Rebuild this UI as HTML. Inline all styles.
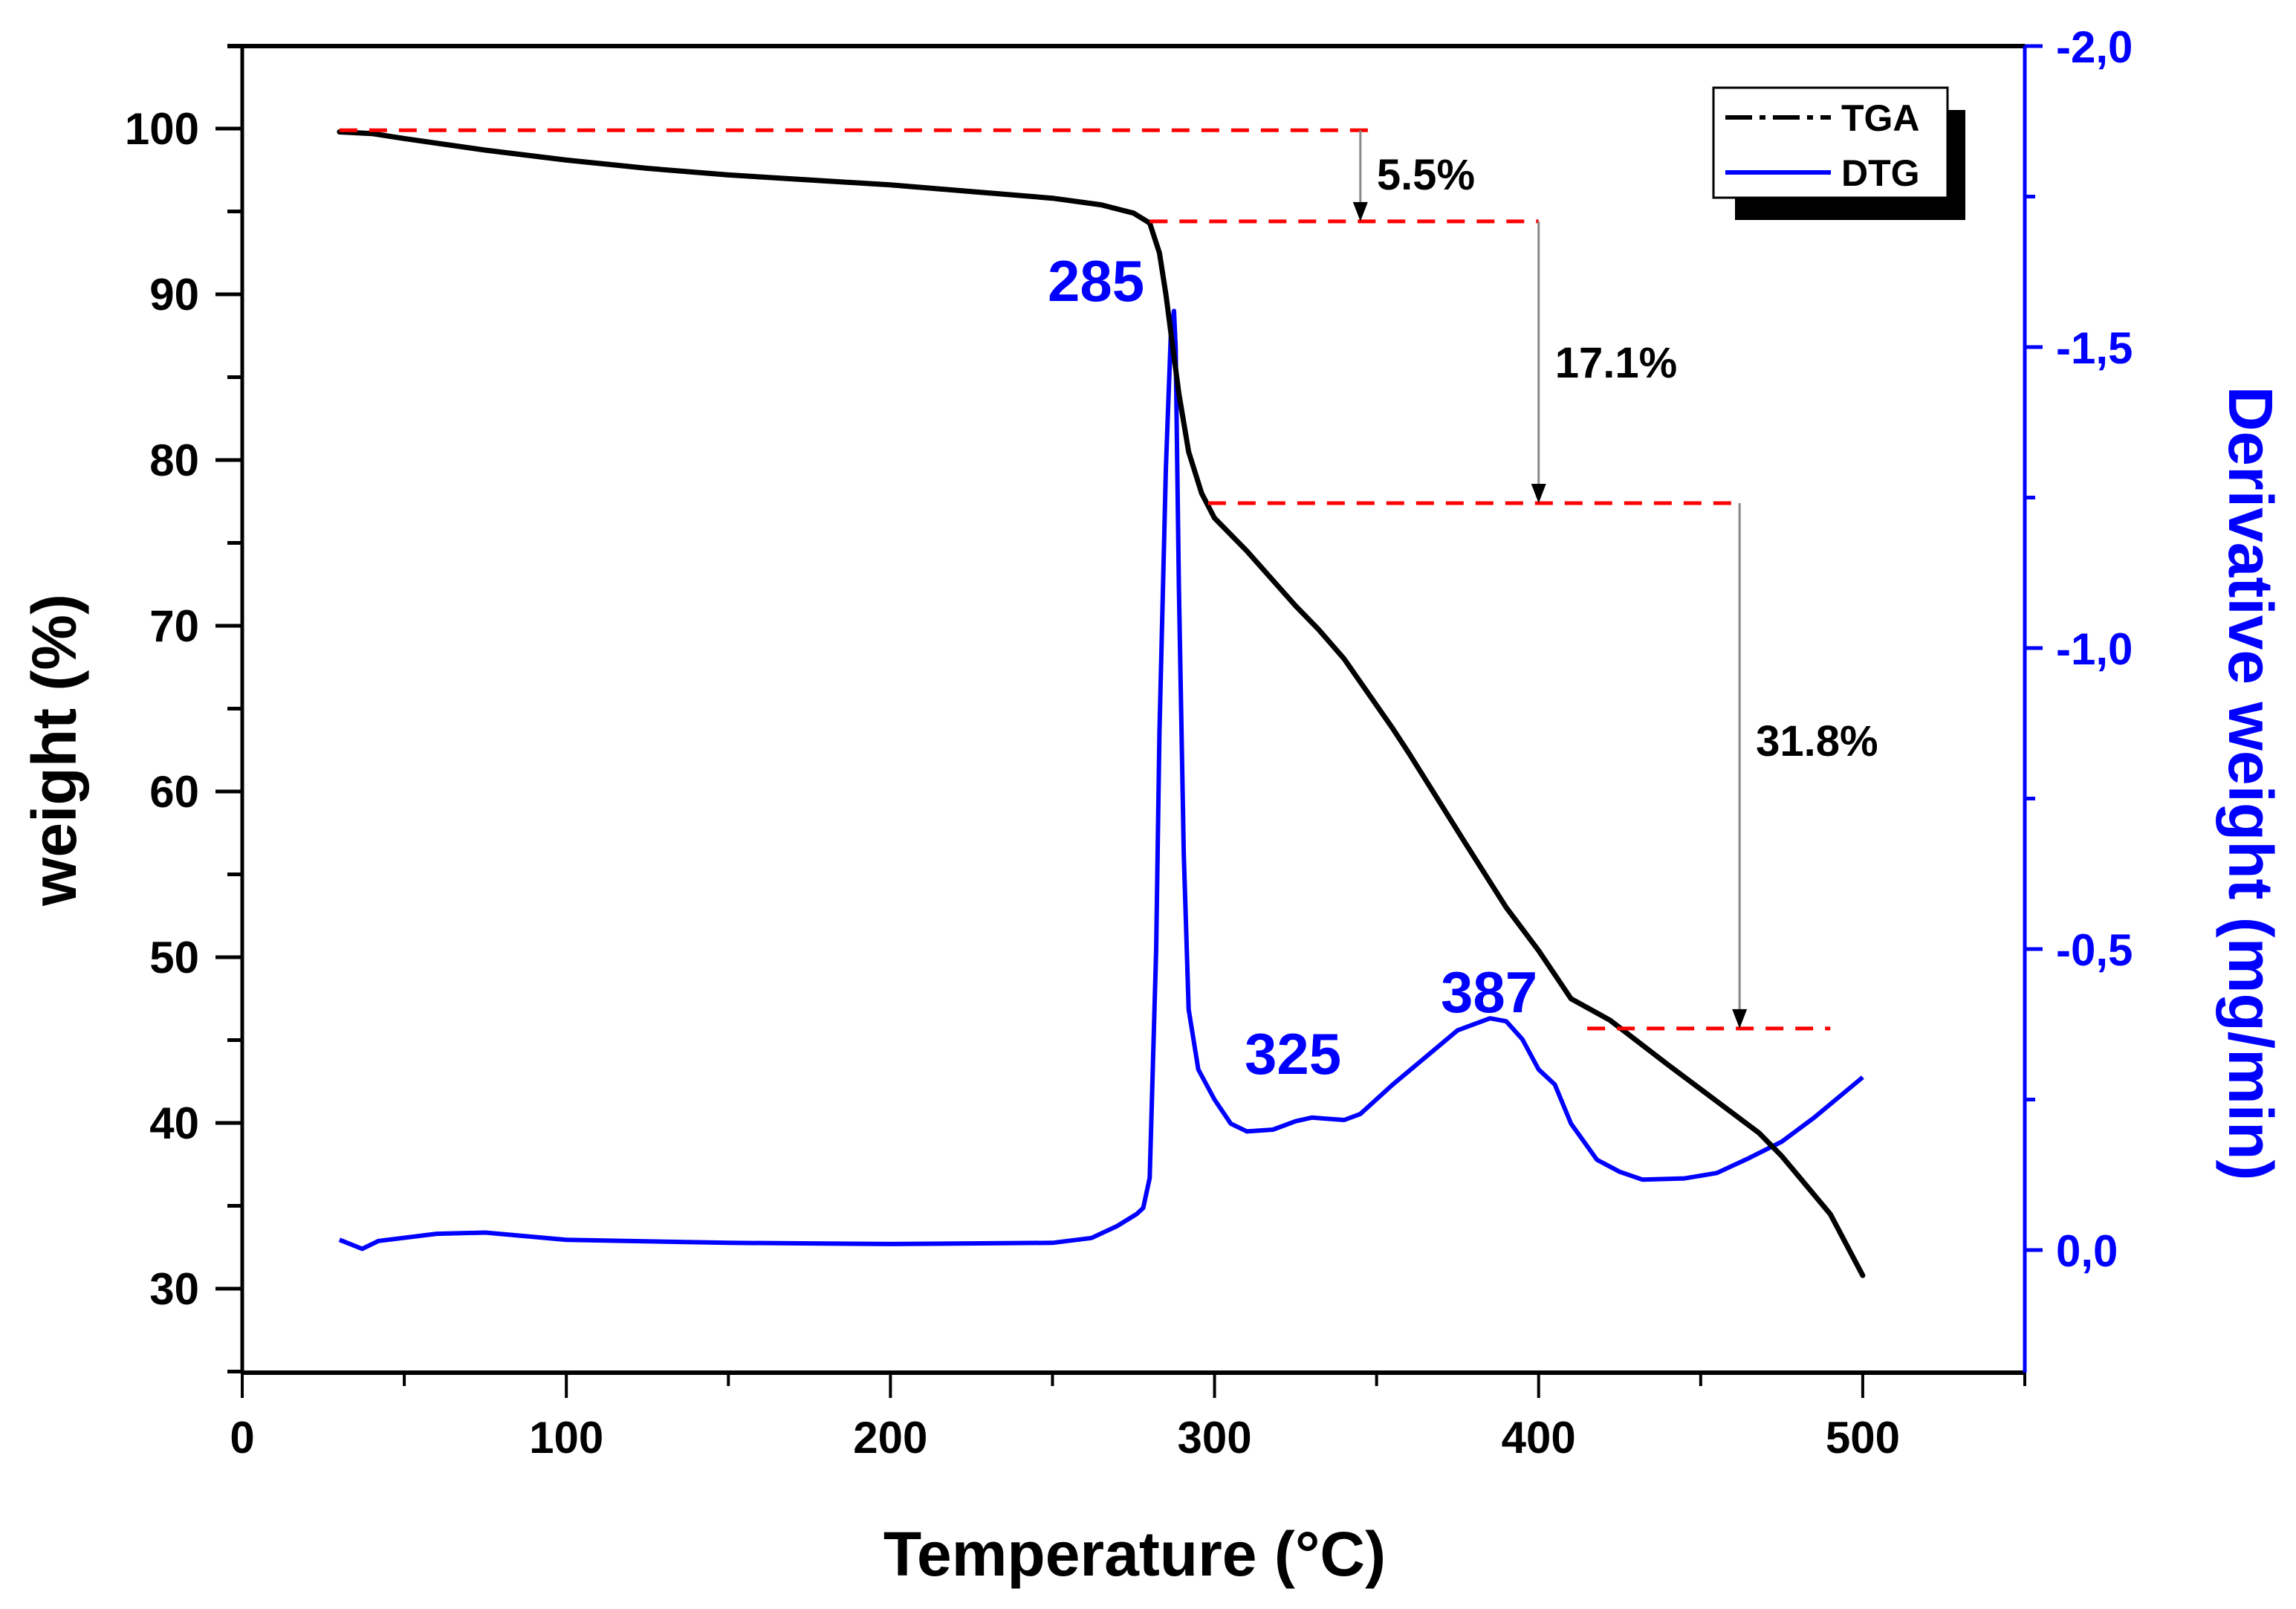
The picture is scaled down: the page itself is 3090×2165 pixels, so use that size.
<!DOCTYPE html>
<html><head><meta charset="utf-8"><style>
html,body{margin:0;padding:0;background:#fff;}
svg{display:block;font-family:"Liberation Sans",Arial,sans-serif;font-weight:bold;}
</style></head><body>
<svg id="chart" width="3090" height="2165" viewBox="0 0 3090 2165" xmlns="http://www.w3.org/2000/svg">
<g id="axes"></g>
<g id="marks"></g>
<g id="annot"></g>
<text x="1527" y="2120" font-size="84" text-anchor="middle">Temperature (°C)</text>
<text transform="translate(102,1009) rotate(-90)" font-size="84" text-anchor="middle">weight (%)</text>
<text transform="translate(3000,1054) rotate(90)" font-size="84" text-anchor="middle" fill="#0000ff">Derivative weight (mg/min)</text>
<g>
<rect x="2335" y="148" width="310" height="148" fill="#000"/>
<rect x="2306" y="118" width="315" height="148" fill="#fff" stroke="#000" stroke-width="3"/>
<line x1="2322" y1="158" x2="2464" y2="158" stroke="#000" stroke-width="6" stroke-dasharray="36,10,8,10"/>
<text x="2478" y="176" font-size="50">TGA</text>
<line x1="2322" y1="232" x2="2464" y2="232" stroke="#0000ff" stroke-width="6"/>
<text x="2478" y="250" font-size="50">DTG</text>
</g>
</svg>
<script>
const tgaT=[30,40,50,75,100,125,150,175,200,225,250,265,275,280,283,285,287,289,292,296,300,310,325,332,340,355,360,377,390,400,410,422,440,468,475,490,500];
const tgaW=[99.8,99.7,99.4,98.7,98.1,97.6,97.2,96.9,96.6,96.2,95.8,95.4,94.9,94.3,92.5,90,87,84,80.5,78,76.5,74.5,71.2,69.8,68,63.8,62.3,57,53,50.4,47.5,46.2,43.5,39.4,38,34.5,30.8];
const dtgT=[30,37,42,60,75,100,150,200,250,262,270,276,278,280,282,283,285,286.5,287.5,288,289,290.5,292,295,300,305,310,318,325,330,340,345,355,365,375,385,390,395,400,405,410,418,425,432,445,455,465,475,485,500];
const dtgV=[-0.017,-0.002,-0.015,-0.027,-0.029,-0.017,-0.012,-0.01,-0.012,-0.02,-0.04,-0.06,-0.07,-0.12,-0.5,-0.86,-1.3,-1.52,-1.56,-1.5,-1.1,-0.66,-0.4,-0.3,-0.25,-0.21,-0.197,-0.2,-0.214,-0.22,-0.216,-0.226,-0.275,-0.32,-0.365,-0.385,-0.38,-0.35,-0.3,-0.275,-0.21,-0.15,-0.13,-0.117,-0.119,-0.128,-0.153,-0.18,-0.22,-0.287];
const xTicks=[0,100,200,300,400,500];
const yTicks=[30,40,50,60,70,80,90,100];
const y2Ticks=[0,-0.5,-1.0,-1.5,-2.0];
const y2Labels=["0,0","-0,5","-1,0","-1,5","-2,0"];
const steps=[[30,348,99.9],[280,400,94.4],[298,462,77.4],[415,490,45.7]];
const arrowT=[345,400,462];
const arrowFrom=[99.9,94.4,77.4];
const arrowTo=[94.4,77.4,45.7];
const stepLabels=["5.5%","17.1%","31.8%"];
const peakT=[285,325,387];

const L=326,R=2725,T=62,B=1847;
const X=v=>L+(v-0)/550*(R-L);
const Y=v=>173+(100-v)*22.3;
const Y2=v=>1682+v*810;
const NS="http://www.w3.org/2000/svg";
function mk(p,tag,attrs){const e=document.createElementNS(NS,tag);for(const k in attrs)e.setAttribute(k,attrs[k]);p.appendChild(e);return e;}
const ax=document.getElementById('axes'),mg=document.getElementById('marks'),an=document.getElementById('annot');

let e;
e=mk(ax,'line',{x1:L-20,y1:T,x2:R,y2:T,stroke:'#000','stroke-width':6});

e=mk(ax,'line',{x1:L,y1:T,x2:L,y2:B,stroke:'#000','stroke-width':5});

e=mk(ax,'line',{x1:L,y1:B,x2:R,y2:B,stroke:'#000','stroke-width':6});

e=mk(ax,'line',{x1:R,y1:T,x2:R,y2:B,stroke:'#0000ff','stroke-width':5});


for(let v=0;v<=550;v+=50){const maj=v%100===0;
 e=mk(ax,'line',{x1:X(v),y1:B,x2:X(v),y2:B+(maj?34:18),stroke:'#000','stroke-width':4});
 }
xTicks.forEach(v=>{e=mk(ax,'text',{x:X(v),y:B+108,'font-size':60,'text-anchor':'middle'});e.textContent=v;
 });
for(let v=25;v<=105;v+=5){const maj=v%10===0;
 e=mk(ax,'line',{x1:L-(maj?36:20),y1:Y(v),x2:L,y2:Y(v),stroke:'#000','stroke-width':5});
 }
yTicks.forEach(v=>{e=mk(ax,'text',{x:L-58,y:Y(v)+21,'font-size':60,'text-anchor':'end'});e.textContent=v;
 });
for(let v=0.25;v>=-2.0;v-=0.25){if(v>0.2)continue;const maj=Math.abs(v*2-Math.round(v*2))<1e-6;
 e=mk(ax,'line',{x1:R,y1:Y2(v),x2:R+(maj?24:14),y2:Y2(v),stroke:'#0000ff','stroke-width':5});
 }
y2Ticks.forEach((v,i)=>{e=mk(ax,'text',{x:R+42,y:Y2(v)+22,'font-size':60,fill:'#0000ff'});e.textContent=y2Labels[i];
 });

steps.forEach(s=>{e=mk(an,'line',{x1:X(s[0]),y1:Y(s[2]),x2:X(s[1]),y2:Y(s[2]),stroke:'#ff0000','stroke-width':5,'stroke-dasharray':'24,16'});
 });
arrowT.forEach((t,i)=>{const x=X(t),y1=Y(arrowFrom[i]),y2=Y(arrowTo[i]);
 e=mk(an,'line',{x1:x,y1:y1,x2:x,y2:y2-20,stroke:'#888','stroke-width':3});
 
 e=mk(an,'path',{d:`M${x-10},${y2-26} L${x+10},${y2-26} L${x},${y2} Z`,fill:'#000'});
 
 e=mk(an,'text',{x:x+22,y:[255,508,1017][i],'font-size':58});e.textContent=stepLabels[i];
 });

const dtgPath=dtgT.map((t,i)=>(i?'L':'M')+X(t).toFixed(1)+','+Y2(dtgV[i]).toFixed(1)).join(' ');
e=mk(mg,'path',{d:dtgPath,fill:'none',stroke:'#0000ff','stroke-width':6,'stroke-linejoin':'round'});

const tgaPath=tgaT.map((t,i)=>(i?'L':'M')+X(t).toFixed(1)+','+Y(tgaW[i]).toFixed(1)).join(' ');
e=mk(mg,'path',{d:tgaPath,fill:'none',stroke:'#000','stroke-width':7,'stroke-linejoin':'round','stroke-linecap':'round'});


const peakPos=[[1410,405],[1675,1445],[1939,1362]];
peakT.forEach((p,i)=>{e=mk(an,'text',{x:peakPos[i][0],y:peakPos[i][1],'font-size':78,fill:'#0000ff'});e.textContent=p;
 });
</script>
</body></html>
